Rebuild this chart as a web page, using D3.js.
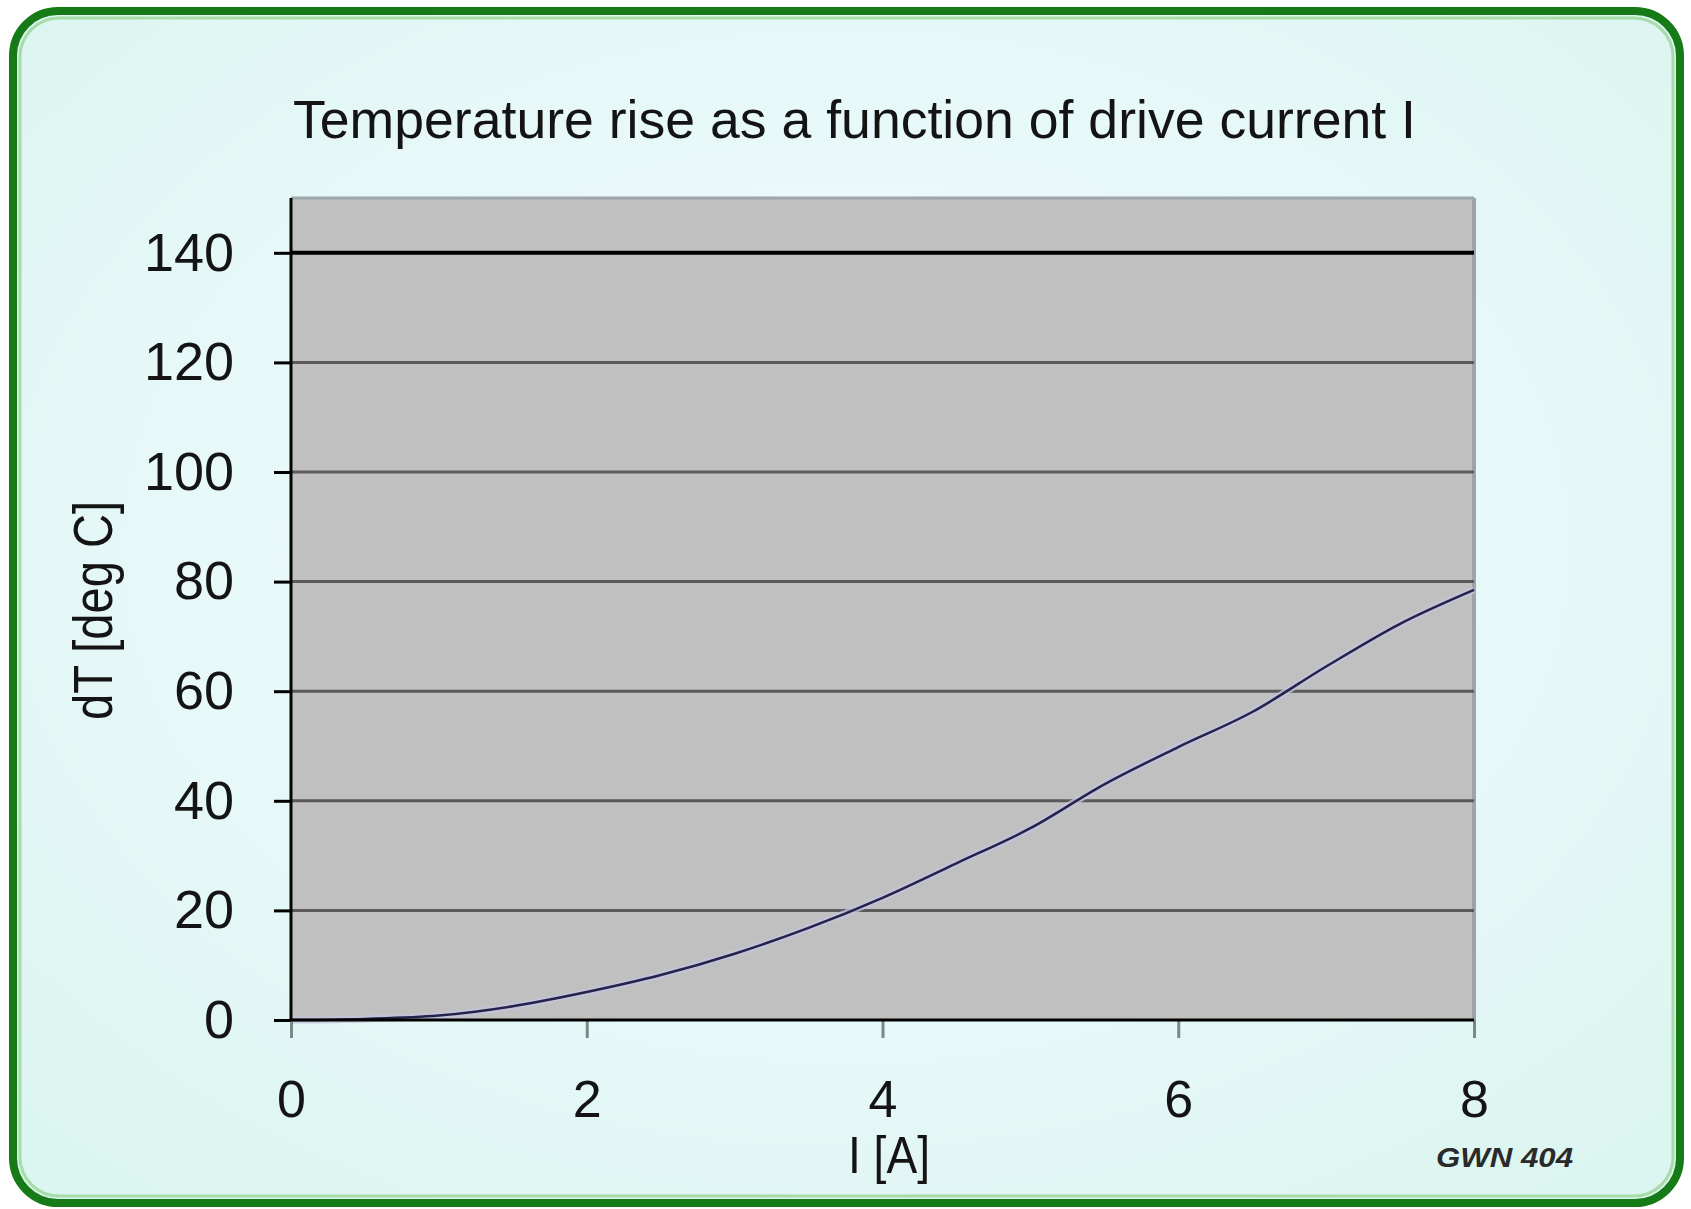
<!DOCTYPE html>
<html>
<head>
<meta charset="utf-8">
<script src="https://cdn.jsdelivr.net/npm/d3@7"></script>
<style>
  html, body { margin: 0; padding: 0; background: #ffffff; }
  svg { display: block; }
  text { font-family: "Liberation Sans", Arial, sans-serif; fill: #141414; }
</style>
</head>
<body>
<script>
// data
var current = [0, 0.5, 1, 1.5, 2, 2.5, 3, 3.5, 4, 4.5, 5, 5.5, 6, 6.5, 7, 7.5, 8];
var tempRise = [0, 0.2, 0.8, 2.5, 5.1, 8.2, 12.1, 16.8, 22.3, 28.6, 35.0, 43.0, 49.8, 56.2, 64.5, 72.3, 78.5];
var yTicks = [0, 20, 40, 60, 80, 100, 120, 140];
var xTicks = [0, 2, 4, 6, 8];

var title = "Temperature rise as a function of drive current I";
var xLabel = "I [A]";
var yLabel = "dT [deg C]";
var stamp = "GWN 404";

var W = 1691, H = 1209;

var svg = d3.select("body").append("svg")
    .attr("width", W)
    .attr("height", H);

// background gradient
var defs = svg.append("defs");
var grad = defs.append("radialGradient")
    .attr("id", "bg")
    .attr("cx", "50%").attr("cy", "45%").attr("r", "70%");
grad.append("stop").attr("offset", "0%").attr("stop-color", "#f2fcfc");
grad.append("stop").attr("offset", "60%").attr("stop-color", "#e6f8f8");
grad.append("stop").attr("offset", "100%").attr("stop-color", "#dbf5f0");

// frame
svg.append("rect")
    .attr("x", 13).attr("y", 11)
    .attr("width", 1667).attr("height", 1192)
    .attr("rx", 45).attr("ry", 45)
    .attr("fill", "url(#bg)")
    .attr("stroke", "#167a16")
    .attr("stroke-width", 8);
svg.append("rect")
    .attr("x", 20).attr("y", 18)
    .attr("width", 1653).attr("height", 1178)
    .attr("rx", 39).attr("ry", 39)
    .attr("fill", "none")
    .attr("stroke", "#a6dca6")
    .attr("stroke-width", 3);

var x = d3.scaleLinear().domain([0, 8]).range([291, 1474]);
var y = d3.scaleLinear().domain([0, 150]).range([1020, 198]);

// plot area
svg.append("rect")
    .attr("x", x(0)).attr("y", y(150))
    .attr("width", x(8) - x(0)).attr("height", y(0) - y(150))
    .attr("fill", "#c0c0c0");
svg.append("line")
    .attr("x1", x(0)).attr("x2", x(8))
    .attr("y1", y(150)).attr("y2", y(150))
    .attr("stroke", "#9ea6aa").attr("stroke-width", 3);
svg.append("line")
    .attr("x1", x(8)).attr("x2", x(8))
    .attr("y1", y(150)).attr("y2", y(0))
    .attr("stroke", "#a0a2aa").attr("stroke-width", 4);

// gridlines
svg.append("g").selectAll("line")
    .data(yTicks.filter(function(d) { return d > 0; }))
    .enter()
    .append("line")
    .attr("x1", x(0)).attr("x2", x(8))
    .attr("y1", function(d) { return y(d); })
    .attr("y2", function(d) { return y(d); })
    .attr("stroke", function(d) { return d === 140 ? "#000000" : "#5a5a5a"; })
    .attr("stroke-width", function(d) { return d === 140 ? 4 : 3; });

// curve
var pts = current.map(function(d, i) { return [d, tempRise[i]]; });
var line = d3.line()
    .x(function(d) { return x(d[0]); })
    .y(function(d) { return y(d[1]); })
    .curve(d3.curveMonotoneX);

svg.append("path")
    .attr("d", line(pts))
    .attr("fill", "none")
    .attr("stroke", "#c4c2dc")
    .attr("stroke-width", 7)
    .attr("opacity", 0.8);
svg.append("path")
    .attr("d", line(pts))
    .attr("fill", "none")
    .attr("stroke", "#22224a")
    .attr("stroke-width", 2.5);

// y axis
var yAxis = svg.append("g")
    .attr("transform", "translate(" + x(0) + ",0)")
    .call(d3.axisLeft(y).tickValues(yTicks).tickSize(17).tickSizeOuter(0).tickPadding(40));
yAxis.select(".domain").remove();
yAxis.selectAll(".tick line").attr("stroke", "#000").attr("stroke-width", 3);
yAxis.selectAll(".tick text")
    .attr("font-size", 54)
    .attr("font-family", "Liberation Sans, Arial, sans-serif")
    .attr("fill", "#141414");
svg.append("line")
    .attr("x1", x(0)).attr("x2", x(0))
    .attr("y1", y(150)).attr("y2", y(0) + 1.5)
    .attr("stroke", "#000").attr("stroke-width", 3);

// x axis
var xAxis = svg.append("g")
    .attr("transform", "translate(0," + y(0) + ")")
    .call(d3.axisBottom(x).tickValues(xTicks).tickSize(18).tickSizeOuter(0).tickPadding(42));
xAxis.select(".domain").remove();
xAxis.selectAll(".tick line").attr("stroke", "#7c8888").attr("stroke-width", 3);
xAxis.selectAll(".tick text")
    .attr("font-size", 52)
    .attr("font-family", "Liberation Sans, Arial, sans-serif")
    .attr("fill", "#141414");
svg.append("line")
    .attr("x1", x(0) - 1.5).attr("x2", x(8))
    .attr("y1", y(0)).attr("y2", y(0))
    .attr("stroke", "#000").attr("stroke-width", 3);

// texts
svg.append("text")
    .attr("x", 293).attr("y", 138)
    .attr("font-size", 53)
    .attr("textLength", 1123)
    .attr("lengthAdjust", "spacingAndGlyphs")
    .text(title);

svg.append("text")
    .attr("x", 848).attr("y", 1173)
    .attr("font-size", 52)
    .attr("textLength", 82)
    .attr("lengthAdjust", "spacingAndGlyphs")
    .text(xLabel);

svg.append("text")
    .attr("transform", "translate(112,720) rotate(-90)")
    .attr("font-size", 56)
    .attr("textLength", 219)
    .attr("lengthAdjust", "spacingAndGlyphs")
    .text(yLabel);

svg.append("text")
    .attr("x", 1436).attr("y", 1167)
    .attr("font-size", 28)
    .attr("font-weight", "bold")
    .attr("font-style", "italic")
    .attr("textLength", 137)
    .attr("lengthAdjust", "spacingAndGlyphs")
    .style("fill", "#2a2a2a")
    .text(stamp);
</script>
</body>
</html>
